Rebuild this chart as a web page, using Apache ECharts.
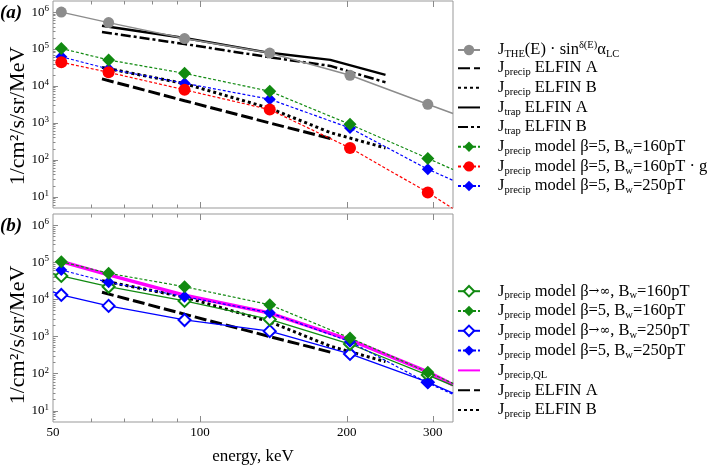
<!DOCTYPE html>
<html><head><meta charset="utf-8">
<script src="https://cdn.jsdelivr.net/npm/echarts@6/dist/echarts.min.js"></script>
<style>html,body{margin:0;padding:0;background:#fff}#c{width:709px;height:466px}</style>
</head><body><div id="c"></div>
<script>
// ---------------- data ----------------
const energyModel = [50, 52, 65, 93, 139, 203, 293, 330];
const isChannel   = [false, true, true, true, true, true, true, false];
const jTHE        = [null, 1.0e6, 5.2e5, 1.93e5, 7.8e4, 1.95e4, 3.2e3, 1.8e3];
const jBeta5B160  = [null, 1.04e5, 5.07e4, 2.2e4, 7.2e3, 920, 110, 55];
const jBeta5B160g = [null, 4.4e4, 2.35e4, 7.9e3, 2.3e3, 211, 13.2, 4.8];
const jBeta5B250  = [null, 6.2e4, 2.9e4, 1.19e4, 4.4e3, 730, 56, 28];
const jBetaInfB160 = [4.9e4, 4.3e4, 2.2e4, 9.1e3, 2.9e3, 630, 92, 48];
const jBetaInfB250 = [1.6e4, 1.32e4, 6.7e3, 2.8e3, 1.4e3, 340, 59, 30];
const jQL          = [null, 1.05e5, 4.6e4, 1.3e4, 4.3e3, 810, 112, 50];

const energyElfin = [63, 93, 139, 185, 240];
const precipA = [1.56e4, 4.0e3, 1.0e3, 380, null];
const precipB = [3.2e4, 1.16e4, 2.5e3, 550, 211];
const trapA   = [4.25e5, 2.0e5, 7.9e4, 5.1e4, 2.0e4];
const trapB   = [2.9e5, 1.37e5, 6.0e4, 3.5e4, 1.26e4];

const xLabelTicks = [50, 100, 200, 300];
const xMajorTicks = [100, 200, 300];
const xMinorTicks = [60, 70, 80, 90];
const yLabelTicks = [10, 100, 1000, 10000, 100000, 1000000];
const yMinorTicks = [6, 7, 8, 9, 20, 30, 40, 50, 60, 70, 80, 90,
  200, 300, 400, 500, 600, 700, 800, 900,
  2000, 3000, 4000, 5000, 6000, 7000, 8000, 9000,
  20000, 30000, 40000, 50000, 60000, 70000, 80000, 90000,
  200000, 300000, 400000, 500000, 600000, 700000, 800000, 900000];

const legendKeysA = ['the', 'pA', 'pB', 'tA', 'tB', 'g5', 'r5', 'b5'];
const legendTextA = [
  '{j|J}{sb|THE}{n|(E) · sin}{sp|δ(E)}{n|α}{sb|LC}',
  '{j|J}{sb|precip}{n| ELFIN A}',
  '{j|J}{sb|precip}{n| ELFIN B}',
  '{j|J}{sb|trap}{n| ELFIN A}',
  '{j|J}{sb|trap}{n| ELFIN B}',
  '{j|J}{sb|precip}{n| model β=5, B}{sb|w}{n|=160pT}',
  '{j|J}{sb|precip}{n| model β=5, B}{sb|w}{n|=160pT · g}',
  '{j|J}{sb|precip}{n| model β=5, B}{sb|w}{n|=250pT}'
];
const legendKeysB = ['gI', 'g5b', 'bI', 'b5b', 'ql', 'pAb', 'pBb'];
const legendTextB = [
  '{j|J}{sb|precip}{n| model β}{ar|→∞}{n|, B}{sb|w}{n|=160pT}',
  '{j|J}{sb|precip}{n| model β=5, B}{sb|w}{n|=160pT}',
  '{j|J}{sb|precip}{n| model β}{ar|→∞}{n|, B}{sb|w}{n|=250pT}',
  '{j|J}{sb|precip}{n| model β=5, B}{sb|w}{n|=250pT}',
  '{j|J}{sb|precip,QL}',
  '{j|J}{sb|precip}{n| ELFIN A}',
  '{j|J}{sb|precip}{n| ELFIN B}'
];

// ---------------- helpers ----------------
const FONT = '"Liberation Serif", "Times New Roman", serif';
const GREEN = '#118a11', BLUE = '#0000ff', RED = '#ff0000', GRAY = '#8c8c8c', MAG = '#ff00ff';
function pairs(xs, ys, marks) {
  const out = [];
  xs.forEach((x, i) => {
    if (ys[i] == null) return;
    if (marks && !marks[i]) out.push({ value: [x, ys[i]], symbol: 'none' });
    else out.push([x, ys[i]]);
  });
  return out;
}
const labelMap = {};
legendKeysA.forEach((k, i) => labelMap[k] = legendTextA[i]);
legendKeysB.forEach((k, i) => labelMap[k] = legendTextB[i]);
const noSymbol = new Set(['pA', 'pB', 'tA', 'tB', 'ql', 'pAb', 'pBb']);

function xAxes(grid, withLabels) {
  const base = { gridIndex: grid, type: 'log', min: 50, max: 330,
    axisLine: { show: false }, splitLine: { show: false } };
  const mk = (pos, ticks, len, labels) => Object.assign({}, base, {
    position: pos,
    axisTick: { show: true, inside: true, length: len, customValues: ticks, lineStyle: { color: '#8a8a8a', width: 1 } },
    axisLabel: labels ? { show: true, customValues: xLabelTicks, margin: 4, fontFamily: FONT, fontSize: 13, color: '#000' } : { show: false }
  });
  const a = [mk('bottom', xMajorTicks, 6, withLabels), mk('bottom', xMinorTicks, 3.5, false),
             mk('top', xMajorTicks, 6, false), mk('top', xMinorTicks, 3.5, false)];
  if (withLabels) {
    a[0].name = 'energy, keV';
    a[0].nameLocation = 'middle';
    a[0].nameGap = 26;
    a[0].nameTextStyle = { fontFamily: FONT, fontSize: 17, color: '#000' };
  }
  return a;
}
function yAxes(grid) {
  const base = { gridIndex: grid, type: 'log', min: 5, max: 2e6, position: 'left',
    axisLine: { show: false }, splitLine: { show: false } };
  return [
    Object.assign({}, base, {
      axisTick: { show: true, inside: true, length: 5, customValues: yLabelTicks, lineStyle: { color: '#8a8a8a' } },
      axisLabel: { show: true, customValues: yLabelTicks, margin: 4,
        formatter: v => '{b|10}{s|' + Math.round(Math.log10(v)) + '}',
        rich: { b: { fontFamily: FONT, fontSize: 13, color: '#000' },
                s: { fontFamily: FONT, fontSize: 9, color: '#000', padding: [0, 0, 7, 0] } } }
    }),
    Object.assign({}, base, {
      axisTick: { show: true, inside: true, length: 2.5, customValues: yMinorTicks, lineStyle: { color: '#8a8a8a' } },
      axisLabel: { show: false }
    })
  ];
}

function lineSeries(name, xi, yi, xs, ys, opt) {
  return Object.assign({
    name: name, type: 'line', xAxisIndex: xi, yAxisIndex: yi,
    data: pairs(xs, ys, opt.marks), symbol: opt.symbol || 'none', symbolSize: opt.size || 10,
    showSymbol: !!opt.symbol, animation: false, silent: true,
    lineStyle: { color: opt.color, width: opt.width, type: opt.type || 'solid' },
    itemStyle: { color: opt.color, borderWidth: opt.border || 0, borderColor: opt.color },
    z: opt.z || 2
  });
}

const series = [
  // panel (a)
  lineSeries('pA', 0, 0, energyElfin, precipA, { color: '#000', width: 3, type: [12, 4] }),
  lineSeries('pB', 0, 0, energyElfin, precipB, { color: '#000', width: 3, type: [3, 3] }),
  lineSeries('tA', 0, 0, energyElfin, trapA, { color: '#000', width: 2.5 }),
  lineSeries('tB', 0, 0, energyElfin, trapB, { color: '#000', width: 2.5, type: [10, 3, 3, 3] }),
  lineSeries('the', 0, 0, energyModel, jTHE, { color: GRAY, width: 1.5, symbol: 'circle', size: 11, marks: isChannel, z: 3 }),
  lineSeries('b5', 0, 0, energyModel, jBeta5B250, { color: BLUE, width: 1.2, type: [3, 2], symbol: 'diamond', size: 12, marks: isChannel, z: 3 }),
  lineSeries('r5', 0, 0, energyModel, jBeta5B160g, { color: RED, width: 1.2, type: [3, 2], symbol: 'circle', size: 12, marks: isChannel, z: 3 }),
  lineSeries('g5', 0, 0, energyModel, jBeta5B160, { color: GREEN, width: 1.2, type: [3, 2], symbol: 'diamond', size: 13, marks: isChannel, z: 3 }),
  // panel (b)
  lineSeries('pAb', 4, 2, energyElfin, precipA, { color: '#000', width: 3, type: [12, 4] }),
  lineSeries('pBb', 4, 2, energyElfin, precipB, { color: '#000', width: 3, type: [3, 3] }),
  lineSeries('ql', 4, 2, energyModel, jQL, { color: MAG, width: 3.5 }),
  lineSeries('bI', 4, 2, energyModel, jBetaInfB250, { color: BLUE, width: 1.3, symbol: 'emptyDiamond', size: 12, border: 1.5, marks: isChannel, z: 3 }),
  lineSeries('gI', 4, 2, energyModel, jBetaInfB160, { color: GREEN, width: 1.3, symbol: 'emptyDiamond', size: 12, border: 1.5, marks: isChannel, z: 3 }),
  lineSeries('b5b', 4, 2, energyModel, jBeta5B250, { color: BLUE, width: 1.2, type: [3, 2], symbol: 'diamond', size: 12, marks: isChannel, z: 4 }),
  lineSeries('g5b', 4, 2, energyModel, jBeta5B160, { color: GREEN, width: 1.2, type: [3, 2], symbol: 'diamond', size: 13, marks: isChannel, z: 4 })
];

const LH = 20;
const legendRich = {
  j: { fontFamily: FONT, fontSize: 16.5, color: '#000', lineHeight: LH, padding: [0, 0, 0, 13] },
  n: { fontFamily: FONT, fontSize: 16.5, color: '#000', lineHeight: LH },
  ar: { fontFamily: '"DejaVu Serif", serif', fontSize: 13, color: '#000', lineHeight: LH },
  sb: { fontFamily: FONT, fontSize: 10.5, color: '#000', lineHeight: LH, verticalAlign: 'bottom' },
  sp: { fontFamily: FONT, fontSize: 10.5, color: '#000', lineHeight: LH, verticalAlign: 'top' }
};
// one legend component per row so every row sits at its own place
function legendRows(keys, firstCenter, step) {
  return keys.map((k, i) => ({
    orient: 'vertical', left: 457, top: firstCenter + i * step - 10, itemWidth: 22, itemHeight: 13,
    selectedMode: false, padding: 0,
    data: [noSymbol.has(k) ? { name: k, itemStyle: { opacity: 0 } } : { name: k }],
    formatter: name => labelMap[name],
    textStyle: { rich: legendRich, overflow: 'none', width: 260 }
  }));
}

const chart = echarts.init(document.getElementById('c'), null, { renderer: 'canvas' });
chart.setOption({
  animation: false,
  backgroundColor: '#fff',
  grid: [
    { left: 53, top: 1, width: 400, height: 207, show: true, borderColor: '#999', borderWidth: 1, outerBoundsMode: 'none' },
    { left: 53, top: 214, width: 400, height: 208, show: true, borderColor: '#999', borderWidth: 1, outerBoundsMode: 'none' }
  ],
  xAxis: xAxes(0, false).concat(xAxes(1, true)),
  yAxis: yAxes(0).concat(yAxes(1)),
  legend: legendRows(legendKeysA, 50, 19.65).concat(legendRows(legendKeysB, 292.7, 19.8)),
  graphic: [
    { type: 'text', left: 0, top: 4, style: { text: '(a)', font: 'italic bold 19px "Liberation Serif"', fill: '#000' } },
    { type: 'text', left: 0, top: 217, style: { text: '(b)', font: 'italic bold 19px "Liberation Serif"', fill: '#000' } },
    { type: 'text', x: 18, y: 116, rotation: Math.PI / 2, style: { text: '1/cm²/s/sr/MeV', font: '22px "Liberation Serif"', align: 'center', verticalAlign: 'middle', fill: '#000' } },
    { type: 'text', x: 18, y: 335, rotation: Math.PI / 2, style: { text: '1/cm²/s/sr/MeV', font: '22px "Liberation Serif"', align: 'center', verticalAlign: 'middle', fill: '#000' } }
  ],
  series: series
});
</script></body></html>
